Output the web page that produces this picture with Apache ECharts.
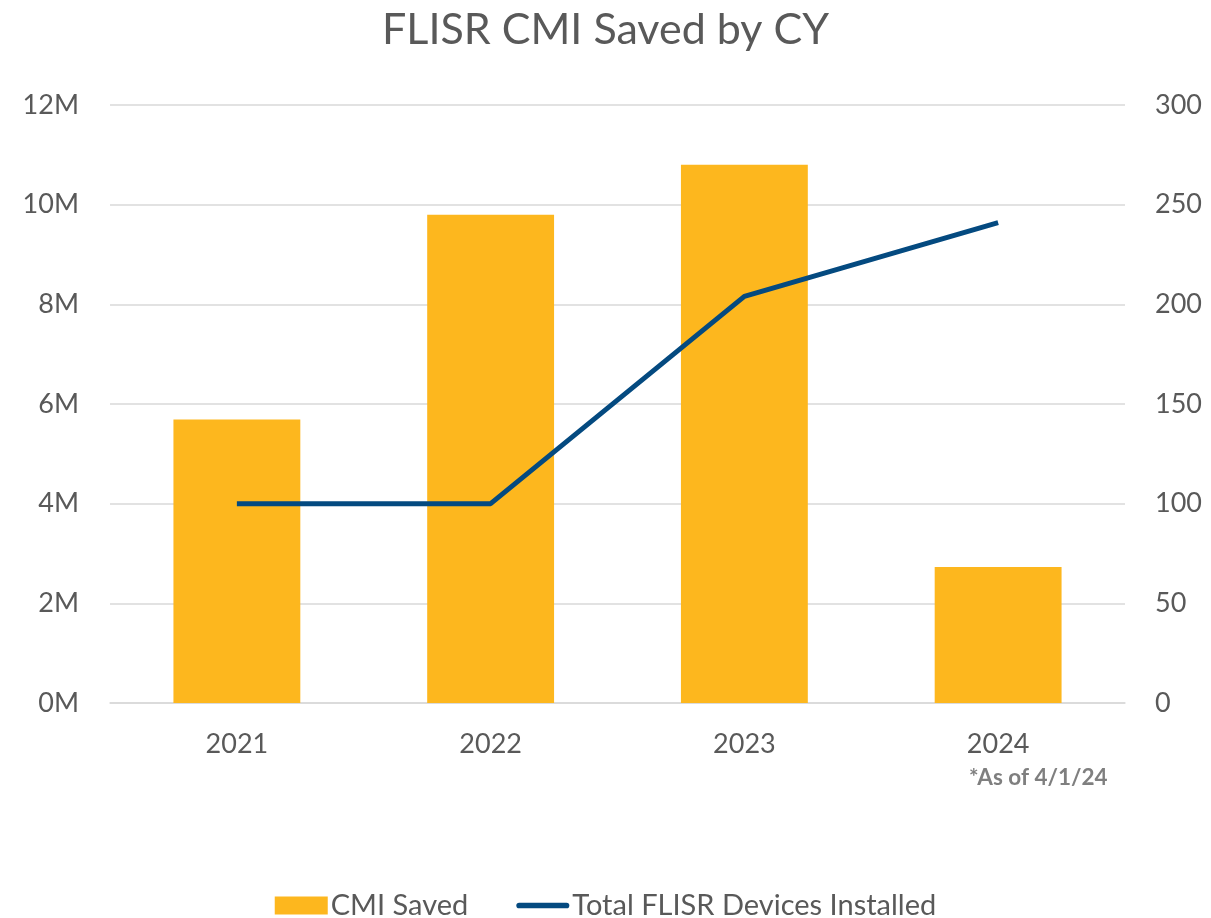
<!DOCTYPE html>
<html>
<head>
<meta charset="utf-8">
<script src="https://cdn.jsdelivr.net/npm/echarts@6/dist/echarts.min.js"></script>
<style>
html,body{margin:0;padding:0;background:#fff;}
#chart{width:1211px;height:918px;}
</style>
</head>
<body>
<div id="chart"></div>
<script>
const categories = ['2021', '2022', '2023', '2024'];
const cmiSaved = [5.69, 9.80, 10.80, 2.73];
const devicesInstalled = [100, 100, 204, 241];
const leftTicks = { min: 0, max: 12, interval: 2 };
const rightTicks = { min: 0, max: 300, interval: 50 };

const FONT = 'Lato, "Open Sans", "Noto Sans", sans-serif';
const chart = echarts.init(document.getElementById('chart'));
chart.setOption({
  animation: false,
  title: {
    text: 'FLISR CMI Saved by CY',
    left: 'center',
    top: 4,
    textStyle: { fontFamily: FONT, fontSize: 43, fontWeight: 'normal', color: '#595959' }
  },
  grid: { left: 110, right: 86, top: 105, bottom: 215, containLabel: false },
  legend: {
    bottom: -7,
    left: 'center',
    itemWidth: 53,
    itemHeight: 18,
    itemGap: 48,
    textStyle: { fontFamily: FONT, fontSize: 29, color: '#595959', padding: [0, 0, 0, -2] },
    data: [
      { name: 'CMI Saved', icon: 'rect' },
      { name: 'Total FLISR Devices Installed', icon: 'path://M3,0 H53 A3,3 0 0 1 53,6 H3 A3,3 0 0 1 3,0 Z' }
    ]
  },
  xAxis: {
    type: 'category',
    data: categories,
    axisLine: { show: true, lineStyle: { color: '#D9D9D9', width: 1.5 } },
    axisTick: { show: false },
    axisLabel: { fontFamily: FONT, fontSize: 27, color: '#595959', margin: 28 }
  },
  yAxis: [
    {
      type: 'value',
      min: leftTicks.min, max: leftTicks.max, interval: leftTicks.interval,
      axisLine: { show: false },
      axisTick: { show: false },
      splitLine: { lineStyle: { color: '#D9D9D9', width: 1.5 } },
      axisLabel: { fontFamily: FONT, fontSize: 27, color: '#595959', margin: 31, formatter: v => v + 'M' }
    },
    {
      type: 'value',
      min: rightTicks.min, max: rightTicks.max, interval: rightTicks.interval,
      axisLine: { show: false },
      axisTick: { show: false },
      splitLine: { show: false },
      axisLabel: { fontFamily: FONT, fontSize: 27, color: '#595959', margin: 30 }
    }
  ],
  series: [
    {
      name: 'CMI Saved',
      type: 'bar',
      yAxisIndex: 0,
      data: cmiSaved,
      barWidth: '50%',
      itemStyle: { color: '#FDB71E' }
    },
    {
      name: 'Total FLISR Devices Installed',
      type: 'line',
      yAxisIndex: 1,
      data: devicesInstalled,
      symbol: 'none',
      lineStyle: { color: '#044A80', width: 5 },
      itemStyle: { color: '#044A80' }
    }
  ],
  graphic: [
    {
      type: 'text',
      left: 969,
      top: 766,
      style: { text: '*As of 4/1/24', fontFamily: FONT, fontSize: 22.5, fontWeight: 'bold', fill: '#7F7F7F' }
    }
  ]
});
</script>
</body>
</html>
